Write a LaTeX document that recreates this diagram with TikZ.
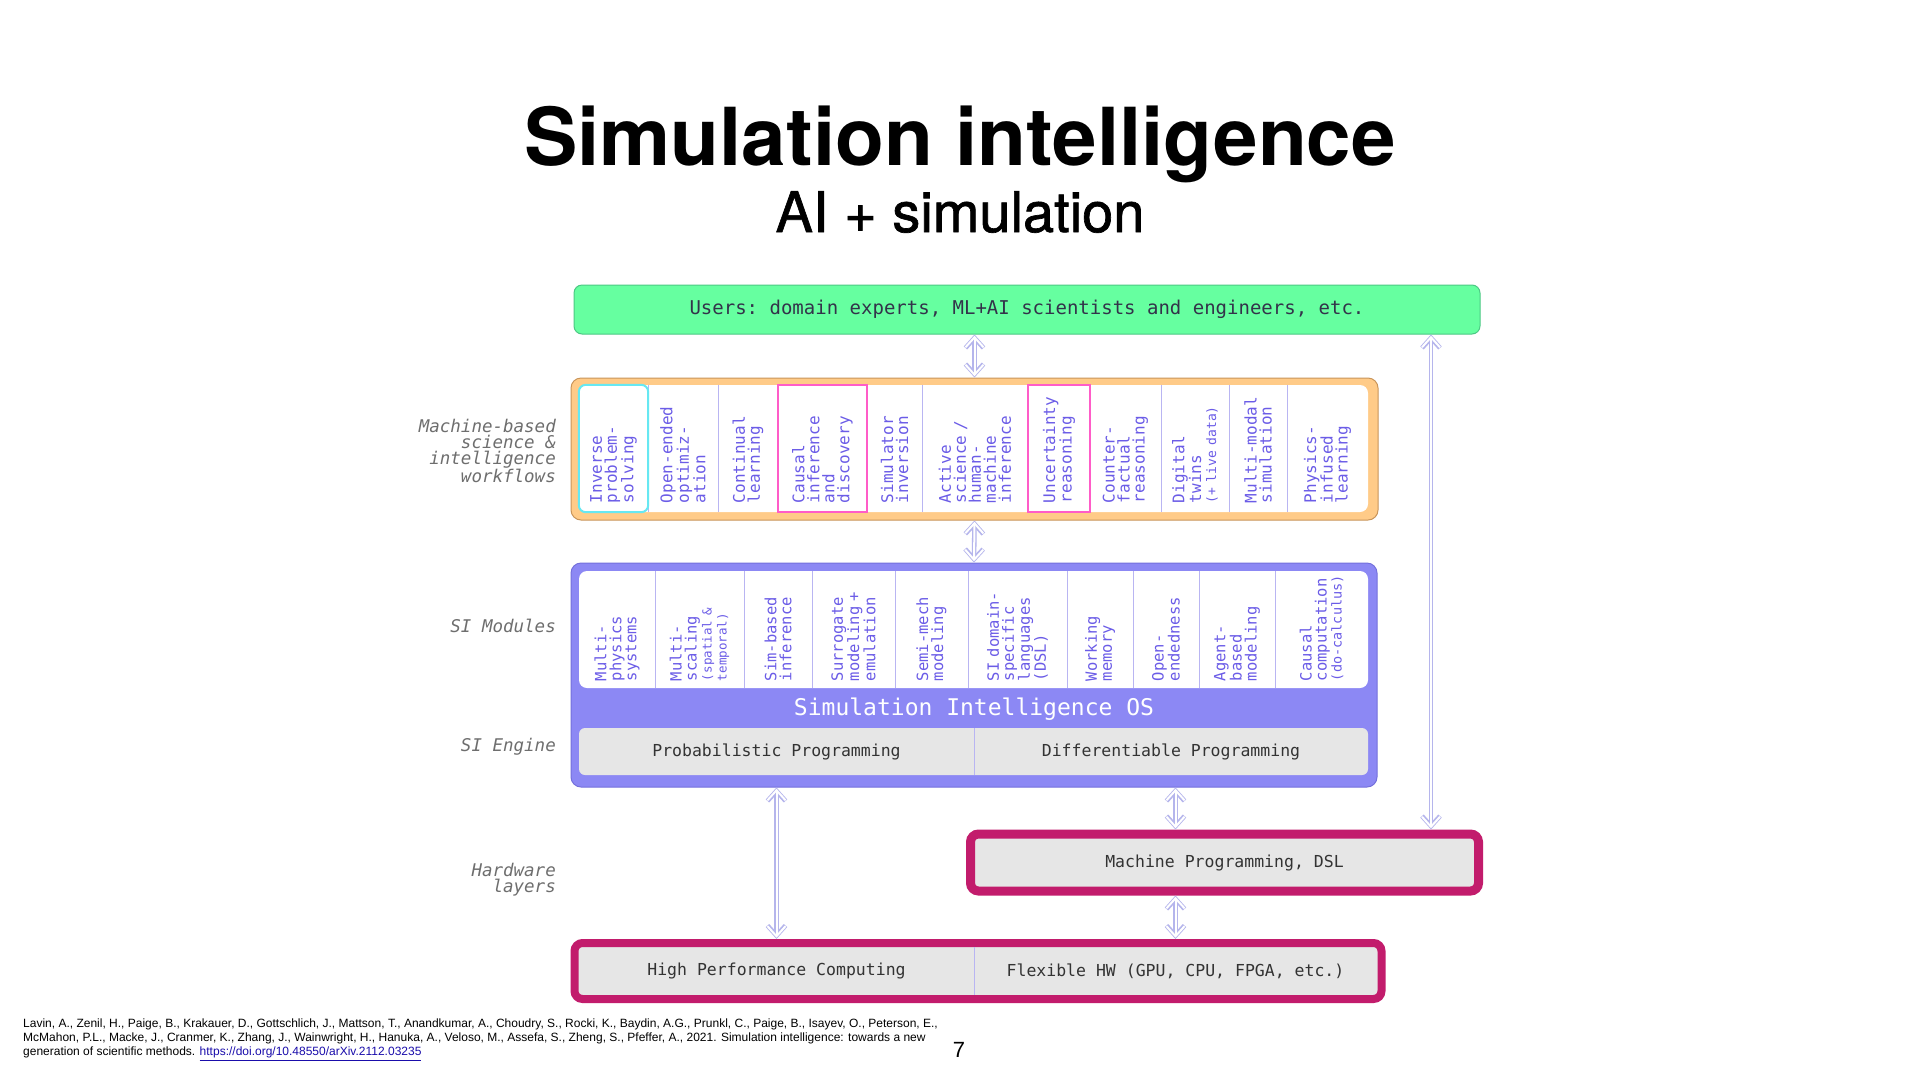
\documentclass[tikz,border=0pt]{standalone}
\usepackage{fontspec}
\setmainfont{TeX Gyre Heros}
\setmonofont{DejaVu Sans Mono}
\newfontfamily\refsans{Liberation Sans}
\newfontfamily\medsans[FakeBold=1.2]{TeX Gyre Heros}
\usepackage{tikz}
\usetikzlibrary{arrows.meta,positioning}
\usepackage{xcolor}
\definecolor{usersfill}{HTML}{66FFA0}
\definecolor{usersdraw}{HTML}{4CC884}
\definecolor{userink}{HTML}{33334A}
\definecolor{flowsfill}{HTML}{FFCB88}
\definecolor{flowsdraw}{HTML}{C9955A}
\definecolor{modsfill}{HTML}{8C88F4}
\definecolor{modsdraw}{HTML}{7470DC}
\definecolor{colink}{HTML}{6B5CE7}
\definecolor{divc}{HTML}{B9B5F2}
\definecolor{cyanc}{HTML}{66E8F2}
\definecolor{pinkc}{HTML}{FF5CC8}
\definecolor{greyfill}{HTML}{E6E6E6}
\definecolor{greyink}{HTML}{333333}
\definecolor{hwc}{HTML}{C21C6C}
\definecolor{arrowc}{HTML}{B5B5EC}
\definecolor{labelc}{HTML}{6E6E6E}
\definecolor{linkc}{HTML}{1A0DAB}
\newcommand{\fs}[2]{\fontsize{#1}{#2}\selectfont}
\tikzset{
  >={Straight Barb[length=10pt,width=18pt]},
  every node/.style={inner sep=0pt},
  userbox/.style={draw=usersdraw,fill=usersfill,rounded corners=8pt,line width=1pt,minimum width=906pt,minimum height=49pt,font=\ttfamily\fs{19}{21},text=userink},
  flowbox/.style={draw=flowsdraw,fill=flowsfill,rounded corners=10pt,line width=1pt,minimum width=807pt,minimum height=142pt},
  modbox/.style={draw=modsdraw,fill=modsfill,rounded corners=10pt,line width=1pt,minimum width=806pt,minimum height=224pt},
  panel/.style={fill=white,rounded corners=8pt,minimum width=789pt},
  wcol/.style={rotate=90,text width=109pt,inner xsep=9pt,align=left,font=\ttfamily\fs{16}{15},text=colink},
  mcol/.style={rotate=90,text width=103pt,inner xsep=7pt,align=left,font=\ttfamily\fs{15.5}{15},text=colink},
  greybox/.style={fill=greyfill,rounded corners=6pt,minimum height=47pt},
  engtext/.style={minimum height=47pt,font=\ttfamily\fs{16.5}{18},text=greyink},
  hwbox/.style={draw=hwc,fill=greyfill,rounded corners=8pt},
  sidelabel/.style={anchor=east,align=right,font=\ttfamily\itshape\fs{17.5}{16.3},text=labelc},
  divline/.style={draw=divc,line width=1pt},
  pinkframe/.style={draw=pinkc,line width=2pt},
  cyanframe/.style={draw=cyanc,line width=2pt,rounded corners=7pt},
  link/.style={<->,draw=arrowc,line width=4.6pt,
    postaction={draw=white,line width=2pt,<->,shorten >=1.3pt,shorten <=1.3pt}},
}

\begin{document}
\begin{tikzpicture}[x=1pt,y=-1pt]
\useasboundingbox (0,0) rectangle (1920,1080);
\fill[white] (0,0) rectangle (1920,1080);

% heading
\node[font=\bfseries\fs{80}{88},anchor=base] (title) at (960,165) {Simulation intelligence};
\node[font=\medsans\fs{56}{60},anchor=base] (subtitle) at (960,232) {AI + simulation};

% users
\node[userbox] (users) at (1027,309.5) {Users: domain experts, ML+AI scientists and engineers, etc.};

% workflows
\node[flowbox] (flows) at (974.5,449) {};
\node[panel,minimum height=127pt] (fpanel) at (973.5,448.5) {};
\node[wcol,minimum height=69pt] (w1) at (613.5,448.5) {Inverse\\problem-\\solving};
\node[wcol,minimum height=70pt] (w2) at (683,448.5) {Open-ended\\optimiz-\\ation};
\node[wcol,minimum height=60pt] (w3) at (748,448.5) {Continual\\learning};
\node[wcol,minimum height=89pt] (w4) at (822.5,448.5) {Causal\\inference\\and\\discovery};
\node[wcol,minimum height=55pt] (w5) at (894.5,448.5) {Simulator\\inversion};
\node[wcol,minimum height=106pt] (w6) at (975,448.5) {Active\\science /\\human-\\machine\\inference};
\node[wcol,minimum height=62pt] (w7) at (1059,448.5) {Uncertainty\\reasoning};
\node[wcol,minimum height=71pt] (w8) at (1125.5,448.5) {Counter-\\factual\\reasoning};
\node[wcol,minimum height=68pt] (w9) at (1195,448.5) {Digital\\twins\\{\fs{13}{14}(+ live data)}};
\node[wcol,minimum height=58pt] (w10) at (1258,448.5) {Multi-modal\\simulation};
\node[wcol,minimum height=81pt] (w11) at (1327.5,448.5) {Physics-\\infused\\learning};
\foreach \i in {1,...,10}
  \draw[divline] (w\i.south east) -- (w\i.south west);
\draw[cyanframe] (w1.north west) rectangle (w1.south east);
\draw[pinkframe] (w4.north west) rectangle (w4.south east);
\draw[pinkframe] (w7.north west) rectangle (w7.south east);

% modules and engine
\node[modbox] (mods) at (974,675) {};
\node[panel,minimum height=117pt] (mpanel) at (973.5,629.5) {};
\node[mcol,minimum height=76pt] (m1) at (617,629.5) {Multi-\\physics\\systems};
\node[mcol,minimum height=89pt] (m2) at (699.5,629.5) {Multi-\\scaling\\{\fs{12.5}{14}(spatial \&}\\{\fs{12.5}{14}temporal)}};
\node[mcol,minimum height=68pt] (m3) at (778,629.5) {Sim-based\\inference};
\node[mcol,minimum height=83pt] (m4) at (853.5,629.5) {Surrogate\\modeling +\\emulation};
\node[mcol,minimum height=73pt] (m5) at (931.5,629.5) {Semi-mech\\modeling};
\node[mcol,minimum height=99pt] (m6) at (1017.5,629.5) {SI domain-\\specific\\languages\\(DSL)};
\node[mcol,minimum height=66pt] (m7) at (1100,629.5) {Working\\memory};
\node[mcol,minimum height=66pt] (m8) at (1166,629.5) {Open-\\endedness};
\node[mcol,minimum height=76pt] (m9) at (1237,629.5) {Agent-\\based\\modeling};
\node[mcol,minimum height=93pt] (m10) at (1321.5,629.5) {Causal\\computation\\{\fs{13.5}{14}(do-calculus)}};
\foreach \i in {1,...,9}
  \draw[divline] (m\i.south east) -- (m\i.south west);
\node[font=\ttfamily\fs{23}{25},text=white] (os) at (974,709) {Simulation Intelligence OS};
\node[greybox,minimum width=789pt] (engine) at (973.5,751.5) {};
\node[engtext,minimum width=395pt] (prob) at (776.5,751.5) {Probabilistic Programming};
\node[engtext,minimum width=394pt] (diff) at (1171,751.5) {Differentiable Programming};
\draw[divline] (prob.north east) -- (prob.south east);

% hardware
\node[hwbox,line width=9pt,minimum width=508pt,minimum height=57pt] (mp) at (1224.5,862.5) {};
\node[engtext] (mptext) at (mp.center) {Machine Programming, DSL};
\node[hwbox,line width=8pt,minimum width=807pt,minimum height=56pt] (hw) at (978,971) {};
\node[engtext,minimum width=395pt,minimum height=48pt] (hpc) at (776.5,971) {High Performance Computing};
\node[engtext,minimum width=403pt,minimum height=48pt] (flex) at (1175.5,971) {Flexible HW (GPU, CPU, FPGA, etc.)};
\draw[divline] (hpc.north east) -- (hpc.south east);

% side labels
\node[sidelabel] (lflows) at (556,451) {Machine-based\\science \&\\intelligence\\workflows};
\node[sidelabel] (lmods) at (556,626) {SI Modules};
\node[sidelabel] (lengine) at (556,747) {SI Engine};
\node[sidelabel] (lhw) at (556,880) {Hardware\\layers};

% links
\coordinate (rail) at (1431,0);
\draw[link] (flows.north |- users.south) -- (flows.north);
\draw[link] (flows.south) -- (mods.north);
\draw[link] (prob.south |- mods.south) -- (prob.south |- hw.north);
\draw[link] (flex.north |- mods.south) -- (flex.north |- mp.north);
\draw[link] (flex.north |- mp.south) -- (flex.north |- hw.north);
\draw[link] (rail |- users.south) -- (rail |- mp.north);

% reference
\node[anchor=north west,align=left,font=\refsans\fs{12}{14}] (cite) at (23,1019)
{Lavin, A., Zenil, H., Paige, B., Krakauer, D., Gottschlich, J., Mattson, T., Anandkumar, A., Choudry, S., Rocki, K., Baydin, A.G., Prunkl, C., Paige, B., Isayev, O., Peterson, E.,\\
McMahon, P.L., Macke, J., Cranmer, K., Zhang, J., Wainwright, H., Hanuka, A., Veloso, M., Assefa, S., Zheng, S., Pfeffer, A., 2021. Simulation intelligence: towards a new\\
generation of scientific methods. \textcolor{linkc}{\underline{https://doi.org/10.48550/arXiv.2112.03235}}};
\node[font=\refsans\fs{22}{24}] (pageno) at (959,1050) {7};

\end{tikzpicture}
\end{document}
